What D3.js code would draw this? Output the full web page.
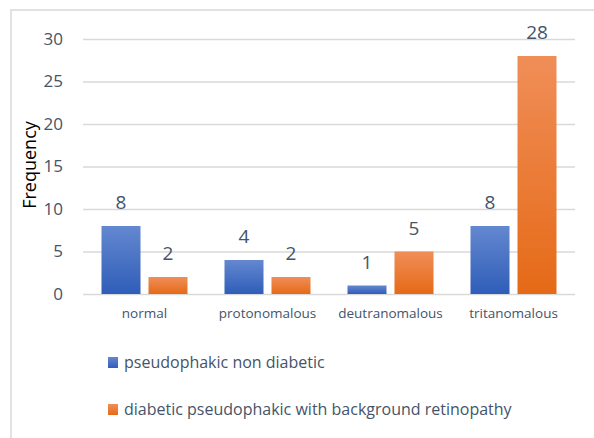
<!DOCTYPE html>
<html><head><meta charset="utf-8">
<script src="https://cdn.jsdelivr.net/npm/d3@7"></script>
<style>html,body{margin:0;padding:0;background:#fff;}svg{display:block;}</style>
</head><body>
<script>
const categories = ["normal", "protonomalous", "deutranomalous", "tritanomalous"];
const seriesNames = ["pseudophakic non diabetic", "diabetic pseudophakic with background retinopathy"];
const nonDiabetic = [8, 4, 1, 8];
const diabeticRetinopathy = [2, 2, 5, 28];
const yTicks = [0, 5, 10, 15, 20, 25, 30];
const yTitle = "Frequency";

const W = 594, H = 438;
const svg = d3.select("body").append("svg").attr("width", W).attr("height", H);
const font = "'Open Sans', sans-serif";
const textColor = "#44546A";

const defs = svg.append("defs");
const grads = [
  {id: "gBlue", top: "#6488D0", bot: "#2F5DB8"},
  {id: "gOrange", top: "#F08E58", bot: "#E56A17"}
];
grads.forEach(g => {
  const lg = defs.append("linearGradient").attr("id", g.id).attr("x1", 0).attr("y1", 0).attr("x2", 0).attr("y2", 1);
  lg.append("stop").attr("offset", "0%").attr("stop-color", g.top);
  lg.append("stop").attr("offset", "100%").attr("stop-color", g.bot);
});

// outer frame
svg.append("rect").attr("x", 11).attr("y", 10).attr("width", 600).attr("height", 440)
  .attr("fill", "none").attr("stroke", "#D9D9D9").attr("stroke-width", 1.5);

const plot = {left: 83, right: 575, top: 39, bottom: 294};
const x0 = d3.scaleBand().domain(categories).range([plot.left, plot.right]).paddingInner(0).paddingOuter(0);
const x1 = d3.scaleBand().domain([0, 1]).range([18.5, x0.bandwidth() - 18.5]).paddingInner(0.17);
const y = d3.scaleLinear().domain([0, 30]).range([plot.bottom, plot.top]);

// gridlines
const yAxis = d3.axisLeft(y).tickValues(yTicks).tickSize(-(plot.right - plot.left)).tickPadding(20).tickFormat(d3.format("d"));
const gy = svg.append("g").attr("transform", `translate(${plot.left},0)`).call(yAxis);
gy.select(".domain").remove();
gy.selectAll(".tick line").attr("stroke", "#D9D9D9").attr("stroke-width", 1.5);
gy.selectAll(".tick text").attr("font-family", font).attr("font-size", 17).attr("fill", textColor).attr("x", -20);

// x axis labels
const xAxis = d3.axisBottom(x0).tickSize(0).tickPadding(14);
const gx = svg.append("g").attr("transform", `translate(0,${plot.bottom})`).call(xAxis);
gx.select(".domain").remove();
gx.selectAll(".tick text").attr("font-family", font).attr("font-size", 13.5).attr("fill", textColor);

const series = [nonDiabetic, diabeticRetinopathy];
const fills = ["url(#gBlue)", "url(#gOrange)"];
series.forEach((vals, si) => {
  const g = svg.append("g");
  g.selectAll("rect").data(vals).join("rect")
    .attr("x", (d, i) => x0(categories[i]) + x1(si))
    .attr("width", x1.bandwidth())
    .attr("y", d => y(d))
    .attr("height", d => y(0) - y(d))
    .attr("fill", fills[si]);
  g.selectAll("text").data(vals).join("text")
    .attr("x", (d, i) => x0(categories[i]) + x1(si) + x1.bandwidth() / 2)
    .attr("y", d => y(d) - 17)
    .attr("text-anchor", "middle")
    .attr("font-family", font).attr("font-size", 19).attr("fill", textColor)
    .text(d => d);
});

// y title
svg.append("text").attr("transform", `translate(36,165) rotate(-90)`)
  .attr("text-anchor", "middle").attr("font-family", font).attr("font-size", 18).attr("fill", "#000")
  .text(yTitle);

// legend
const legendY = [362, 409];
seriesNames.forEach((name, i) => {
  svg.append("rect").attr("x", 108).attr("y", legendY[i] - 5).attr("width", 10).attr("height", 11).attr("fill", fills[i]);
  svg.append("text").attr("x", 124).attr("y", legendY[i]).attr("dy", "0.35em")
    .attr("font-family", font).attr("font-size", 16).attr("fill", textColor).text(name);
});
</script>
</body></html>
